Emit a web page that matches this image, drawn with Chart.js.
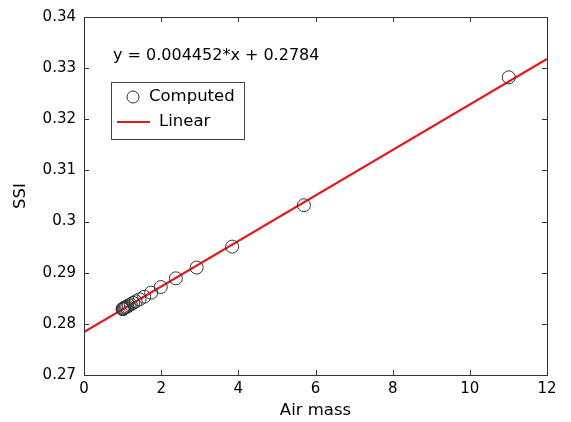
<!DOCTYPE html>
<html>
<head>
<meta charset="utf-8">
<script src="https://cdn.jsdelivr.net/npm/chart.js@4.4.1/dist/chart.umd.min.js"></script>
<style>
  html, body { margin: 0; padding: 0; background: #fff; }
  #wrap { width: 571px; height: 422px; }
</style>
</head>
<body>
<div id="wrap"><canvas id="c" width="571" height="422"></canvas></div>
<script>
// measured points (air mass vs SSI)
var airMass = [1.00, 1.01, 1.02, 1.04, 1.06, 1.09, 1.12, 1.16, 1.21, 1.27, 1.34, 1.44, 1.56, 1.74, 1.99, 2.38, 2.92, 3.84, 5.70, 11.01];
var ssi = [0.2829, 0.2829, 0.2830, 0.2831, 0.2832, 0.2833, 0.2834, 0.2836, 0.2838, 0.2841, 0.2844, 0.2848, 0.2853, 0.2861, 0.2872, 0.2889, 0.2910, 0.2951, 0.3032, 0.3282];

// fitted line end points
var fitX = [0, 12];
var fitY = [0.2784, 0.3318];

var equationText = 'y = 0.004452*x + 0.2784';
var legendLabels = ['Computed', 'Linear'];

var xTicks = [0, 2, 4, 6, 8, 10, 12];
var yTicks = [0.27, 0.28, 0.29, 0.30, 0.31, 0.32, 0.33, 0.34];

var FONT = '"DejaVu Sans", Arial, sans-serif';
var RED = '#e41a1a';

var computedPts = airMass.map(function(x, i) { return { x: x, y: ssi[i] }; });
var linePts = fitX.map(function(x, i) { return { x: x, y: fitY[i] }; });

// frame, inward ticks, equation and legend box
var matlabBox = {
    id: 'matlabBox',
    afterDraw: function(chart) {
        var ctx = chart.ctx;
        var a = chart.chartArea;
        var xs = chart.scales.x, ys = chart.scales.y;
        ctx.save();
        ctx.strokeStyle = '#333';
        ctx.lineWidth = 1;
        ctx.strokeRect(Math.round(a.left) + 0.5, Math.round(a.top) + 0.5,
            Math.round(a.right - a.left), Math.round(a.bottom - a.top));
        var t = 5;
        ctx.beginPath();
        xTicks.forEach(function(v) {
            var px = Math.round(xs.getPixelForValue(v)) + 0.5;
            ctx.moveTo(px, a.bottom); ctx.lineTo(px, a.bottom - t);
            ctx.moveTo(px, a.top); ctx.lineTo(px, a.top + t);
        });
        yTicks.forEach(function(v) {
            var py = Math.round(ys.getPixelForValue(v)) + 0.5;
            ctx.moveTo(a.left, py); ctx.lineTo(a.left + t, py);
            ctx.moveTo(a.right, py); ctx.lineTo(a.right - t, py);
        });
        ctx.stroke();

        // equation
        ctx.fillStyle = '#000';
        ctx.font = '16px ' + FONT;
        ctx.textBaseline = 'middle';
        ctx.textAlign = 'left';
        ctx.fillText(equationText, 113, 56);

        // legend
        ctx.fillStyle = '#fff';
        ctx.fillRect(111, 82, 133, 57);
        ctx.strokeStyle = '#444';
        ctx.strokeRect(111.5, 82.5, 133, 57);
        ctx.beginPath();
        ctx.arc(133, 97, 6, 0, Math.PI * 2);
        ctx.strokeStyle = '#333';
        ctx.stroke();
        ctx.beginPath();
        ctx.moveTo(117, 122); ctx.lineTo(150, 122);
        ctx.strokeStyle = RED;
        ctx.lineWidth = 2;
        ctx.stroke();
        ctx.fillStyle = '#000';
        ctx.font = '16.5px ' + FONT;
        ctx.fillText(legendLabels[0], 149, 97);
        ctx.fillText(legendLabels[1], 159, 122);
        ctx.restore();
    }
};

var ctx = document.getElementById('c');
new Chart(ctx, {
    type: 'scatter',
    data: {
        datasets: [
            {
                label: legendLabels[1],
                data: linePts,
                type: 'line',
                showLine: true,
                borderColor: RED,
                borderWidth: 2.2,
                pointRadius: 0,
                fill: false,
                order: 2
            },
            {
                label: legendLabels[0],
                data: computedPts,
                pointStyle: 'circle',
                pointRadius: 6.5,
                pointBorderWidth: 1,
                pointBorderColor: '#333',
                pointBackgroundColor: 'rgba(0,0,0,0)',
                order: 1
            }
        ]
    },
    options: {
        responsive: false,
        animation: false,
        layout: { padding: { left: 0, right: 24, top: 15, bottom: 0 } },
        plugins: {
            legend: { display: false },
            tooltip: { enabled: false }
        },
        scales: {
            x: {
                type: 'linear',
                min: 0, max: 12,
                afterBuildTicks: function(s) { s.ticks = xTicks.map(function(v) { return { value: v }; }); },
                afterFit: function(s) { s.height = 47; },
                grid: { display: false, drawTicks: false },
                border: { display: false },
                ticks: { color: '#000', padding: 5, font: { family: FONT, size: 15 }, maxRotation: 0 },
                title: { display: true, text: 'Air mass', color: '#000', padding: { top: 0, bottom: 1 }, font: { family: FONT, size: 16.5 } }
            },
            y: {
                type: 'linear',
                min: 0.27, max: 0.34,
                afterBuildTicks: function(s) { s.ticks = yTicks.map(function(v) { return { value: v }; }); },
                afterFit: function(s) { s.width = 84; },
                grid: { display: false, drawTicks: false },
                border: { display: false },
                ticks: {
                    color: '#000', padding: 8, font: { family: FONT, size: 15 },
                    callback: function(v) { return String(+v.toFixed(2)); }
                },
                title: { display: true, text: 'SSI', color: '#000', padding: { top: 11, bottom: 0 }, font: { family: FONT, size: 16.5 } }
            }
        }
    },
    plugins: [matlabBox]
});
</script>
</body>
</html>
